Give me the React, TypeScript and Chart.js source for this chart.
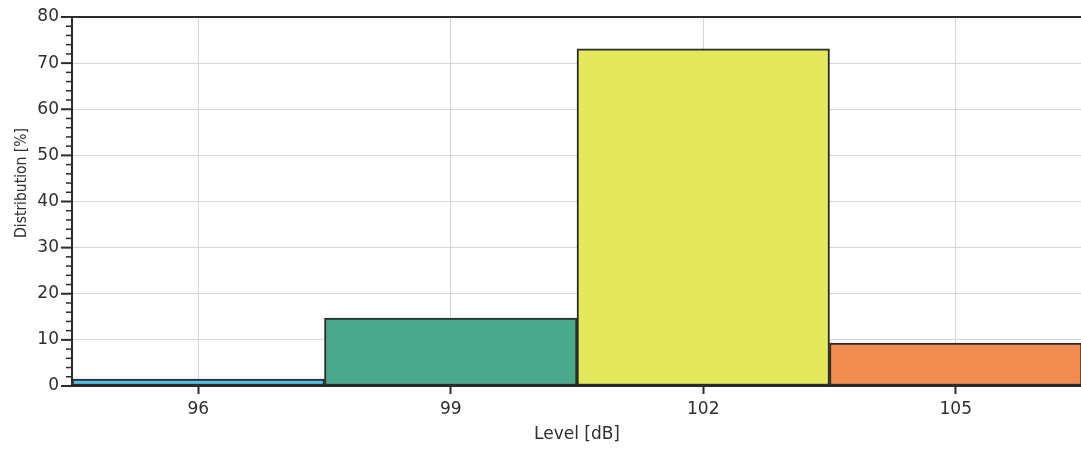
import React, { useEffect, useRef } from "react";
import { Chart, registerables } from "chart.js";

Chart.register(...registerables);

const categories: string[] = ["96", "99", "102", "105"];
const distribution: number[] = [1.5, 14.7, 73.1, 9.3];
const barColors: string[] = ["#4cc4ee", "#4aa98b", "#e4e95b", "#f28b4f"];
const yMin = 0;
const yMax = 80;
const yMajorStep = 10;
const yMinorStep = 2;
const xTitle = "Level [dB]";
const yTitle = "Distribution [%]";

const TEXT = "#2e2e2e";
const AXIS = "#2b2b2b";
const GRID = "#d6d6d6";
const FONT = '"DejaVu Sans", "Liberation Sans", sans-serif';

const decorPlugin = {
  id: "decor",
  afterDraw(chart: any) {
    const { ctx, chartArea, scales } = chart;
    const y = scales.y;
    ctx.save();
    // y-axis major & minor ticks
    ctx.strokeStyle = AXIS;
    for (let v = yMin; v <= yMax; v += yMinorStep) {
      const py = y.getPixelForValue(v);
      const major = v % yMajorStep === 0;
      ctx.lineWidth = major ? 2 : 1.5;
      const len = major ? 11 : 6;
      ctx.beginPath();
      ctx.moveTo(chartArea.left - len, py);
      ctx.lineTo(chartArea.left, py);
      ctx.stroke();
    }
    // top frame line
    ctx.lineWidth = 2;
    ctx.beginPath();
    ctx.moveTo(chartArea.left - 1, chartArea.top);
    ctx.lineTo(chartArea.right, chartArea.top);
    ctx.stroke();
    // y-axis title
    ctx.fillStyle = TEXT;
    ctx.font = '15.5px "DejaVu Sans Condensed", "DejaVu Sans", sans-serif';
    ctx.textAlign = "center";
    ctx.textBaseline = "middle";
    ctx.translate(22, 183);
    ctx.rotate(-Math.PI / 2);
    ctx.fillText(yTitle, 0, 0);
    ctx.restore();
  },
};

export default function App() {
  const ref = useRef<HTMLCanvasElement | null>(null);

  useEffect(() => {
    if (!ref.current) return;
    const chart = new Chart(ref.current, {
      type: "bar",
      data: {
        labels: categories,
        datasets: [
          {
            data: distribution,
            backgroundColor: barColors,
            borderColor: AXIS,
            borderWidth: 2,
            borderSkipped: false,
            categoryPercentage: 1,
            barPercentage: 1,
          },
        ],
      },
      options: {
        responsive: false,
        animation: false,
        devicePixelRatio: 1,
        layout: { padding: { top: 17, right: 2, left: 0, bottom: 0 } },
        plugins: {
          legend: { display: false },
          tooltip: { enabled: false },
        },
        scales: {
          x: {
            type: "category",
            offset: true,
            grid: {
              offset: false,
              color: GRID,
              lineWidth: 1,
              drawTicks: true,
              tickLength: 8,
              tickColor: AXIS,
              tickWidth: 2,
            },
            border: { color: AXIS, width: 2 },
            ticks: {
              color: TEXT,
              font: { family: FONT, size: 17 },
              padding: 5,
              maxRotation: 0,
              autoSkip: false,
            },
            title: {
              display: true,
              text: xTitle,
              color: TEXT,
              font: { family: FONT, size: 17 },
              padding: { top: 0, bottom: 9 },
            },
            afterFit: (s: any) => {
              s.height = 68;
              s.paddingLeft = 0;
              s.paddingRight = 0;
            },
          },
          y: {
            min: yMin,
            max: yMax,
            grid: {
              drawTicks: false,
              lineWidth: 1,
              color: (c: any) => {
                const v = c.tick ? c.tick.value : 0;
                return v % yMajorStep === 0 && v !== yMin && v !== yMax ? GRID : "rgba(0,0,0,0)";
              },
            },
            border: { color: AXIS, width: 2 },
            ticks: {
              stepSize: yMinorStep,
              autoSkip: false,
              color: TEXT,
              font: { family: FONT, size: 17 },
              padding: 13,
              callback: (v: any) => (Number(v) % yMajorStep === 0 ? String(v) : ""),
            },
            afterFit: (s: any) => {
              s.width = 72;
              s.paddingTop = 0;
              s.paddingBottom = 0;
            },
          },
        },
      },
      plugins: [decorPlugin],
    });
    return () => chart.destroy();
  }, []);

  return (
    <div
      style={{
        position: "fixed",
        left: 0,
        top: 0,
        width: 1081,
        height: 454,
        overflow: "hidden",
        background: "#fff",
      }}
    >
      <canvas ref={ref} width={1084} height={454} style={{ display: "block", width: 1084, height: 454 }} />
    </div>
  );
}
